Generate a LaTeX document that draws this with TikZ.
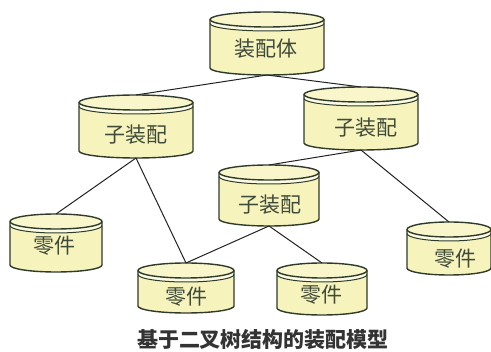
\documentclass[tikz,border=0pt]{standalone}
\usepackage{fontspec}
\newfontfamily\cjk{Noto Sans CJK SC}
\definecolor{drumfill}{HTML}{F7F3BC}
\definecolor{drumtop}{HTML}{F9F6CC}
\definecolor{drumband}{HTML}{FCFBE6}
\definecolor{drumline}{HTML}{2E3B2A}
\definecolor{lbl}{HTML}{3E4A3A}
\definecolor{wire}{HTML}{222222}
\tikzset{
  drumnode/.style={draw=none, inner sep=0pt, outer sep=0pt, rectangle},
  drumtext/.style={font=\cjk\fontsize{21}{21}\selectfont, text=lbl, inner sep=0pt},
  drumedge/.style={draw=drumline, line width=1.4pt, line join=round},
  wirestyle/.style={draw=wire, line width=1pt},
  captionstyle/.style={font=\cjk\bfseries\fontsize{21}{21}\selectfont, text=black!80, inner sep=0pt}
}
% name, cx, ytop, ybottom, width, text, text-x, text-y
\newcommand{\drum}[8]{%
  \pgfmathsetmacro{\dl}{#2-#5/2}%
  \pgfmathsetmacro{\dr}{#2+#5/2}%
  \pgfmathsetmacro{\da}{#5/2}%
  \pgfmathsetmacro{\dka}{0.5523*#5/2}%
  \pgfmathsetmacro{\de}{#3+7.5}%
  \pgfmathsetmacro{\dbs}{#4-7}%
  \pgfmathsetmacro{\dh}{#4-#3}%
  \pgfmathsetmacro{\dc}{(#3+#4)/2}%
  \fill[drumfill] (\dl,\de) -- (\dl,\dbs) .. controls (\dl,\dbs+3.9) and (#2-\dka,#4) .. (#2,#4)
     .. controls (#2+\dka,#4) and (\dr,\dbs+3.9) .. (\dr,\dbs) -- (\dr,\de) -- cycle;
  \fill[drumband] (\dl,\de) .. controls (\dl,\de+4.14) and (#2-\dka,\de+7.5) .. (#2,\de+7.5)
     .. controls (#2+\dka,\de+7.5) and (\dr,\de+4.14) .. (\dr,\de)
     -- (\dr,\de+4) .. controls (\dr,\de+8.14) and (#2+\dka,\de+11.5) .. (#2,\de+11.5)
     .. controls (#2-\dka,\de+11.5) and (\dl,\de+8.14) .. (\dl,\de+4) -- cycle;
  \draw[drumedge] (\dl,\de) -- (\dl,\dbs) .. controls (\dl,\dbs+3.9) and (#2-\dka,#4) .. (#2,#4)
     .. controls (#2+\dka,#4) and (\dr,\dbs+3.9) .. (\dr,\dbs) -- (\dr,\de);
  \draw[drumedge, line width=1pt] (\dl,\de+4) .. controls (\dl,\de+8.14) and (#2-\dka,\de+11.5) .. (#2,\de+11.5)
     .. controls (#2+\dka,\de+11.5) and (\dr,\de+8.14) .. (\dr,\de+4);
  \filldraw[fill=drumtop, drumedge] (#2,\de) ellipse [x radius=\da, y radius=7.5];
  \node[drumnode, minimum width=#5pt, minimum height=\dh pt] (#1) at (#2,\dc) {};
  \node[drumtext] (#1-t) at (#7,#8) {#6};
}
\begin{document}
\begin{tikzpicture}[x=1pt, y=-1pt]
  \fill[white] (0,0) rectangle (491,352);
  \useasboundingbox (0,0) rectangle (491,352);

  \drum{top}{267}{12}{75}{114}{装配体}{266}{49}
  \drum{lsub}{136}{95}{158}{114}{子装配}{136}{135}
  \drum{rsub}{361}{87}{150}{114}{子装配}{366}{128}
  \drum{msub}{269}{165}{226}{100}{子装配}{270}{205}
  \drum{lpart}{56}{214}{272}{92}{零件}{55}{246}
  \drum{rpart}{449}{222}{275}{84}{零件}{455}{259}
  \drum{bpartA}{186}{263}{313}{96}{零件}{186}{297}
  \drum{bpartB}{322}{263}{315}{90}{零件}{321}{295}

  \draw[wirestyle] (top.south) -- (lsub.north);
  \draw[wirestyle] (top.south) -- (rsub.north);
  \draw[wirestyle] (lsub.south) -- (lpart.north);
  \draw[wirestyle] (lsub.south) -- (bpartA.north);
  \draw[wirestyle] (rsub.south) -- (msub.north);
  \draw[wirestyle] (rsub.south) -- (rpart.north);
  \draw[wirestyle] (msub.south) -- (bpartA.north);
  \draw[wirestyle] (msub.south) -- (bpartB.north);

  \node[captionstyle] (cap) at (263,340) {基于二叉树结构的装配模型};
\end{tikzpicture}
\end{document}
